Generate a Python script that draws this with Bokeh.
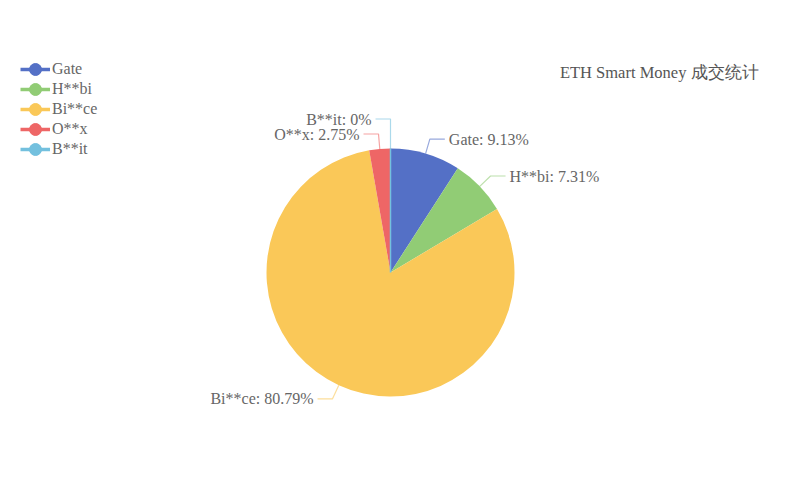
import math
from bokeh.plotting import figure
from bokeh.models import Range1d, Legend, LegendItem, ColumnDataSource, Label
from bokeh.core.properties import value
from bokeh.embed import file_html
from bokeh.resources import INLINE

names = ["Gate", "H**bi", "Bi**ce", "O**x", "B**it"]
percents = [9.13, 7.31, 80.79, 2.75, 0.0]
colors = ["#5470c6", "#91cc75", "#fac858", "#ee6666", "#73c0de"]
title_text = "ETH Smart Money 成交统计"

W, H = 784, 484
FONT = "Liberation Serif"
FS = "16px"
cx, cy, R = 390, H - 272, 124
L1, L2 = 15, 15

p = figure(width=W, height=H, x_range=Range1d(0, W), y_range=Range1d(0, H),
           output_backend="svg", toolbar_location=None, min_border=0)
p.axis.visible = False
p.grid.visible = False
p.outline_line_color = None
p.background_fill_color = "white"
p.border_fill_color = "white"

total = sum(percents)
starts, ends, mids = [], [], []
acc = 0.0
for v in percents:
    a0 = acc / total * 2 * math.pi
    acc += v
    a1 = acc / total * 2 * math.pi
    starts.append(a0); ends.append(a1); mids.append((a0 + a1) / 2)

nz = [i for i, v in enumerate(percents) if v > 0]
src = ColumnDataSource(dict(
    x=[cx] * len(nz), y=[cy] * len(nz),
    start=[math.pi / 2 - ends[i] for i in nz], end=[math.pi / 2 - starts[i] for i in nz],
    color=[colors[i] for i in nz]))
p.wedge(x="x", y="y", radius=R, radius_units="screen", start_angle="start", end_angle="end",
        fill_color="color", line_color=None, source=src)

# zero-size slices drawn as a radial line
for v, a, c in zip(percents, mids, colors):
    if v == 0:
        p.segment(x0=[cx], y0=[cy], x1=[cx + R * math.sin(a)], y1=[cy + R * math.cos(a)],
                  line_color=c, line_width=1.5)

# labels with leader lines
labels = []
for n, v, a, c in zip(names, percents, mids, colors):
    ex, ey = cx + R * math.sin(a), cy + R * math.cos(a)
    bx, by = cx + (R + L1) * math.sin(a), cy + (R + L1) * math.cos(a)
    right = math.sin(a) > 1e-9
    labels.append(dict(n=n, v=v, c=c, ex=ex, ey=ey, bx=bx, by=by, right=right))

# simple overlap avoidance per side
for side in (True, False):
    its = sorted([l for l in labels if l["right"] == side], key=lambda l: l["by"])
    for k in range(1, len(its)):
        if its[k]["by"] - its[k - 1]["by"] < 15:
            its[k]["by"] = its[k - 1]["by"] + 15

for l in labels:
    dx = L2 if l["right"] else -L2
    p.line(x=[l["ex"], l["bx"], l["bx"] + dx], y=[l["ey"], l["by"], l["by"]],
           line_color=l["c"], line_alpha=0.6, line_width=1.2)
    txt = f"{l['n']}: {l['v']:g}%"
    p.text(x=[l["bx"] + dx + (4 if l["right"] else -4)], y=[l["by"]], text=[txt],
           text_align="left" if l["right"] else "right", text_baseline="middle",
           text_font=value(FONT), text_font_size=FS, text_color="#666666")

# title
p.add_layout(Label(x=W - 26, y=H - 72, x_units="screen", y_units="screen", text=title_text,
                   text_align="right", text_baseline="middle", text_font=FONT,
                   text_font_size="16.5px", text_color="#555555"))

# legend: one single-item legend per series so rows can sit 20px apart
GH = 34
for i, (n, c) in enumerate(zip(names, colors)):
    lr = p.line(x=[-100, -90], y=[-100, -100], line_color=c, line_width=3.5)
    sr = p.scatter(x=[-100], y=[-100], size=14, fill_color=c, line_color=c)
    center = 69 + 20 * i
    leg = Legend(items=[LegendItem(label=n, renderers=[lr, sr])],
                 location=(20, H - (center + GH // 2)), glyph_width=30, glyph_height=GH,
                 label_height=20, spacing=0, padding=0, margin=0, label_standoff=2,
                 label_text_font=FONT, label_text_font_size=FS, label_text_color="#666666",
                 background_fill_alpha=0, border_line_color=None)
    p.add_layout(leg)

open("out.html", "w").write(file_html(p, INLINE))
